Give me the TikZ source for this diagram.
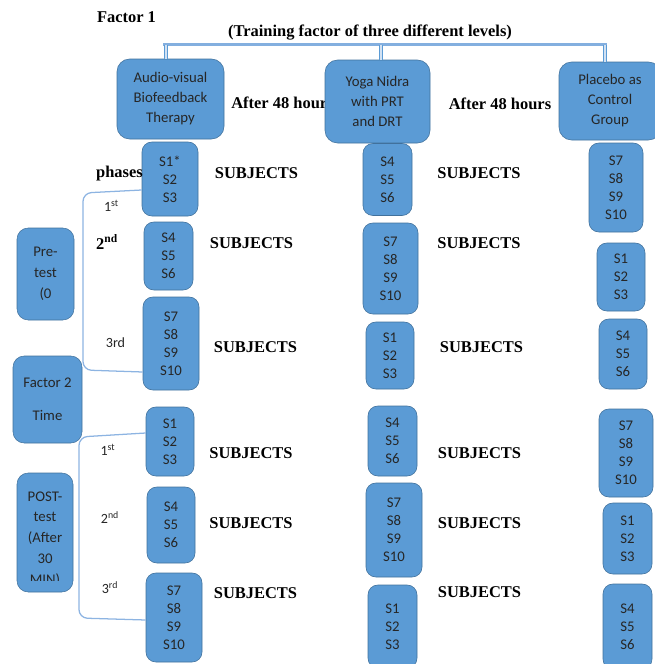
\documentclass[tikz,border=0pt]{standalone}
\usepackage{fontspec}
\setmainfont{Liberation Serif}
\newfontfamily\carlito{Carlito}
\usetikzlibrary{calc}
\newcommand{\upx}{0.025cm}
\definecolor{boxblue}{HTML}{5B9BD5}
\definecolor{boxedge}{HTML}{41719C}
\definecolor{lineblue}{HTML}{8DB4E2}
\tikzset{>=latex,
  lvl/.style={draw=boxedge,fill=boxblue,rounded corners=9,inner sep=0pt,align=center,
    text=black!85,font=\carlito\fontsize{10.5}{14.2}\selectfont},
  subj/.style={draw=boxedge,fill=boxblue,rounded corners=7,inner sep=0pt,align=center,
    text=black!85,font=\carlito\fontsize{10.5}{12.8}\selectfont},
  side/.style={draw=boxedge,fill=boxblue,rounded corners=8,inner sep=0pt,align=center,
    text=black!85,font=\carlito\fontsize{10.5}{14.8}\selectfont},
  lbl/.style={inner sep=0pt,font=\bfseries\fontsize{11.7}{14}\selectfont},
  ord/.style={inner sep=0pt,text=black!85,font=\carlito\fontsize{10}{12}\selectfont},
  brk/.style={draw=lineblue,line width=0.9pt,rounded corners=6},
  stem/.style={draw=boxblue,line width=0.5pt,double=lineblue!40,double distance=2pt}
}

\begin{document}
\begin{tikzpicture}[x=\upx,y=-\upx]
\useasboundingbox (0,0) rectangle (654,664);

% titles
\node[lbl] (fac1) at (126.5,17) {Factor 1};
\node[lbl] (train) at (370,33) {(Training factor of three different levels)};
\node[lbl,anchor=west] (wait1) at (231,103) {After 48 hours};
\node[lbl] (wait2) at (500,104) {After 48 hours};

% training levels
\coordinate (t1) at (166,44.5);
\coordinate (t2) at (381,44.5);
\coordinate (t3) at (605,44.5);
\draw[draw=lineblue!80!boxblue,line width=1.5pt] (163,44.5) -- (607,44.5);
\node[lvl,minimum width=107*\upx,minimum height=80*\upx] (av) at (170.5,99) {Audio-visual\\Biofeedback\\Therapy};
\node[lvl,minimum width=105*\upx,minimum height=83*\upx] (yn) at (377.5,101.5) {Yoga Nidra\\with PRT\\and DRT};
\node[lvl,minimum width=102*\upx,minimum height=78*\upx] (pl) at (610,101) {Placebo as\\Control\\Group};
\draw[stem] (t1) -- (t1 |- av.north);
\draw[stem] (t2) -- (t2 |- yn.north);
\draw[stem] (t3) -- (t3 |- pl.north);

% factor 2 boxes
\node[side,minimum width=57*\upx,minimum height=92*\upx] (pre) at (45.5,274) {Pre-\\test\\(0};
\node[side,minimum width=69*\upx,minimum height=87*\upx] (time) at (47.5,399.5) {Factor 2\\[9pt]Time};
\node[side,minimum width=56*\upx,minimum height=119*\upx] (post) at (45,532.5) {};
\begin{scope}
  \clip (post.north west) rectangle ($(post.south east)+(0,-12)$);
  \node[ord,align=center,font=\carlito\fontsize{10.5}{14.8}\selectfont] (posttxt) at (45,539) {POST-\\test\\(After\\30\\MIN)};
\end{scope}

% subjects, pre-test
\node[subj,minimum width=56*\upx,minimum height=74*\upx] (a1) at (170,179) {S1*\\S2\\S3};
\node[subj,minimum width=49*\upx,minimum height=68*\upx] (a2) at (168.5,256) {S4\\S5\\S6};
\node[subj,minimum width=56*\upx,minimum height=93*\upx] (a3) at (171,343.5) {S7\\S8\\S9\\S10};
\node[subj,minimum width=49*\upx,minimum height=72*\upx] (c1) at (387.5,179.5) {S4\\S5\\S6};
\node[subj,minimum width=55*\upx,minimum height=91*\upx] (c2) at (390.5,268.5) {S7\\S8\\S9\\S10};
\node[subj,minimum width=48*\upx,minimum height=67*\upx] (c3) at (390,355.5) {S1\\S2\\S3};
\node[subj,minimum width=54*\upx,minimum height=89*\upx] (e1) at (616,187.5) {S7\\S8\\S9\\S10};
\node[subj,minimum width=48*\upx,minimum height=68*\upx] (e2) at (621,277) {S1\\S2\\S3};
\node[subj,minimum width=48*\upx,minimum height=70*\upx] (e3) at (623,354) {S4\\S5\\S6};

% subjects, post-test
\node[subj,minimum width=48*\upx,minimum height=69*\upx] (b1) at (170,441.5) {S1\\S2\\S3};
\node[subj,minimum width=48*\upx,minimum height=76*\upx] (b2) at (171,525) {S4\\S5\\S6};
\node[subj,minimum width=56*\upx,minimum height=89*\upx] (b3) at (174,617.5) {S7\\S8\\S9\\S10};
\node[subj,minimum width=49*\upx,minimum height=70*\upx] (d1) at (392.5,441) {S4\\S5\\S6};
\node[subj,minimum width=56*\upx,minimum height=94*\upx] (d2) at (394,530) {S7\\S8\\S9\\S10};
\node[subj,minimum width=49*\upx,minimum height=83*\upx] (d3) at (392.5,626.5) {S1\\S2\\S3};
\node[subj,minimum width=54*\upx,minimum height=88*\upx] (f1) at (626,453) {S7\\S8\\S9\\S10};
\node[subj,minimum width=49*\upx,minimum height=71*\upx] (f2) at (627.5,538.5) {S1\\S2\\S3};
\node[subj,minimum width=49*\upx,minimum height=85*\upx] (f3) at (627.5,626.5) {S4\\S5\\S6};

% SUBJECTS labels
\node[lbl] (sa1) at (256.5,173) {SUBJECTS};
\node[lbl] (sa2) at (251.5,243) {SUBJECTS};
\node[lbl] (sa3) at (255.5,347) {SUBJECTS};
\node[lbl] (sc1) at (479,173) {SUBJECTS};
\node[lbl] (sc2) at (479,243) {SUBJECTS};
\node[lbl] (sc3) at (481.5,347) {SUBJECTS};
\node[lbl] (sb1) at (251,453) {SUBJECTS};
\node[lbl] (sb2) at (251,523) {SUBJECTS};
\node[lbl] (sb3) at (255.5,593) {SUBJECTS};
\node[lbl] (sd1) at (479.5,453) {SUBJECTS};
\node[lbl] (sd2) at (479.5,523) {SUBJECTS};
\node[lbl] (sd3) at (479.5,592) {SUBJECTS};

% phases
\node[lbl] (phases) at (119.5,174) {phases};
\node[ord] (p1) at (111.5,206) {1\textsuperscript{st}};
\node[lbl] (p2) at (107,242) {2\textsuperscript{nd}};
\node[ord] (p3) at (115.5,343) {3rd};
\node[ord] (q1) at (108,450) {1\textsuperscript{st}};
\node[ord] (q2) at (110,518) {2\textsuperscript{nd}};
\node[ord] (q3) at (110,588) {3\textsuperscript{rd}};

% brackets
\coordinate (pk1) at (83,193);
\coordinate (pk2) at (83,370);
\coordinate (qk1) at (79,437);
\coordinate (qk2) at (79,618);
\draw[brk] ($(a1.west)+(0,11)$) -- (pk1) -- (pk2) -- ($(a3.west)+(0,28.5)$);
\draw[brk] ($(b1.west)+(0,-8.5)$) -- (qk1) -- (qk2) -- ($(b3.west)+(0,2.5)$);
\end{tikzpicture}
\end{document}
